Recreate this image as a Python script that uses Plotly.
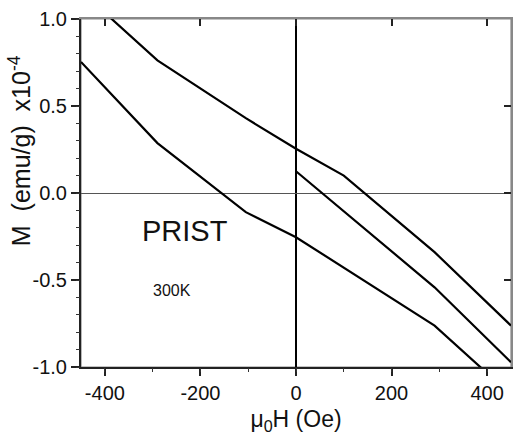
import plotly.graph_objects as go

# Hysteresis branches (field in Oe, magnetization in 1e-4 emu/g)
H_upper = [-450, -290, -105, 0, 100, 290, 450]
M_upper = [1.16, 0.762, 0.43, 0.254, 0.10, -0.34, -0.762]

H_lower = [-450, -290, -105, 0, 290, 450]
M_lower = [0.753, 0.287, -0.11, -0.254, -0.762, -1.16]

H_virgin = [0, 290, 450]
M_virgin = [0.125, -0.542, -0.973]

x_ticks = [-400, -200, 0, 200, 400]
y_ticks = [-1.0, -0.5, 0.0, 0.5, 1.0]

FONT = "Liberation Sans, Arial, sans-serif"
line = dict(color="black", width=2.2)

fig = go.Figure()
fig.add_trace(go.Scatter(x=H_upper, y=M_upper, mode="lines", line=line, showlegend=False))
fig.add_trace(go.Scatter(x=H_lower, y=M_lower, mode="lines", line=line,
                         xaxis="x3", yaxis="y3", showlegend=False))
fig.add_trace(go.Scatter(x=H_virgin, y=M_virgin, mode="lines", line=line,
                         xaxis="x2", yaxis="y2", showlegend=False))

XR = [-450, 450]
YR = [-1, 1]


def minor_axis(over, side, rng, dtick, ticks, length):
    return dict(overlaying=over, side=side, range=rng, tickmode="linear", tick0=0,
                dtick=dtick, showticklabels=False, ticks=ticks, ticklen=length,
                tickwidth=1.2, tickcolor="#333", showline=False, showgrid=False,
                zeroline=False)


fig.update_layout(
    width=513, height=443,
    margin=dict(l=81, r=2, t=19, b=76),
    paper_bgcolor="white", plot_bgcolor="rgba(0,0,0,0)",
    font=dict(family=FONT, color="#111", size=20),
    xaxis=dict(
        range=XR, tickvals=x_ticks, ticktext=[f"{v:g}" for v in x_ticks],
        ticks="outside", ticklen=7, tickwidth=1.5, tickcolor="#222",
        showline=True, linecolor="#222", linewidth=2, showgrid=False,
        zeroline=True, zerolinecolor="black", zerolinewidth=2,
        tickfont=dict(size=20, family=FONT, color="#111"),
        title=dict(text="μ<sub>0</sub>H (Oe)", font=dict(size=23, family=FONT, color="#111"), standoff=8),
    ),
    yaxis=dict(
        range=YR, tickvals=y_ticks, ticktext=[f"{v:.1f}" for v in y_ticks],
        ticks="outside", ticklen=8, tickwidth=1.5, tickcolor="#222",
        showline=True, linecolor="#222", linewidth=2, showgrid=False,
        zeroline=True, zerolinecolor="#555", zerolinewidth=1.2,
        tickfont=dict(size=20, family=FONT, color="#111"),
    ),
    # top / right frame with inward major ticks
    xaxis2=dict(overlaying="x", side="top", range=XR, tickvals=x_ticks,
                showticklabels=False, ticks="inside", ticklen=7, tickwidth=1.5,
                tickcolor="#222", showline=True, linecolor="#888", linewidth=1.5,
                showgrid=False, zeroline=False),
    yaxis2=dict(overlaying="y", side="right", range=YR, tickvals=y_ticks,
                showticklabels=False, ticks="inside", ticklen=7, tickwidth=1.5,
                tickcolor="#222", showline=True, linecolor="#888", linewidth=1.5,
                showgrid=False, zeroline=False),
    # minor ticks: bottom / left outward, top / right inward
    xaxis3=minor_axis("x", "bottom", XR, 100, "outside", 4),
    yaxis3=minor_axis("y", "left", YR, 0.1, "outside", 4),
    xaxis4=minor_axis("x", "top", XR, 100, "inside", 4),
    yaxis4=minor_axis("y", "right", YR, 0.1, "inside", 4),
    shapes=[dict(type="rect", xref="paper", yref="paper", x0=0, x1=1, y0=0, y1=1,
                 line=dict(color="#888", width=1.2), layer="below")],
    annotations=[
        dict(text="M  (emu/g)  x10<sup>-4</sup>", textangle=-90,
             xref="paper", yref="paper", x=-0.142, y=0.623,
             xanchor="center", yanchor="middle", showarrow=False,
             font=dict(size=25, family=FONT, color="#111")),
        dict(text="PRIST", xref="x", yref="y", x=-232, y=-0.22,
             showarrow=False, font=dict(size=29, family=FONT, color="#111")),
        dict(text="300K", xref="x", yref="y", x=-259, y=-0.56,
             showarrow=False, font=dict(size=16, family=FONT, color="#111")),
    ],
)

fig.write_html("out.html")
